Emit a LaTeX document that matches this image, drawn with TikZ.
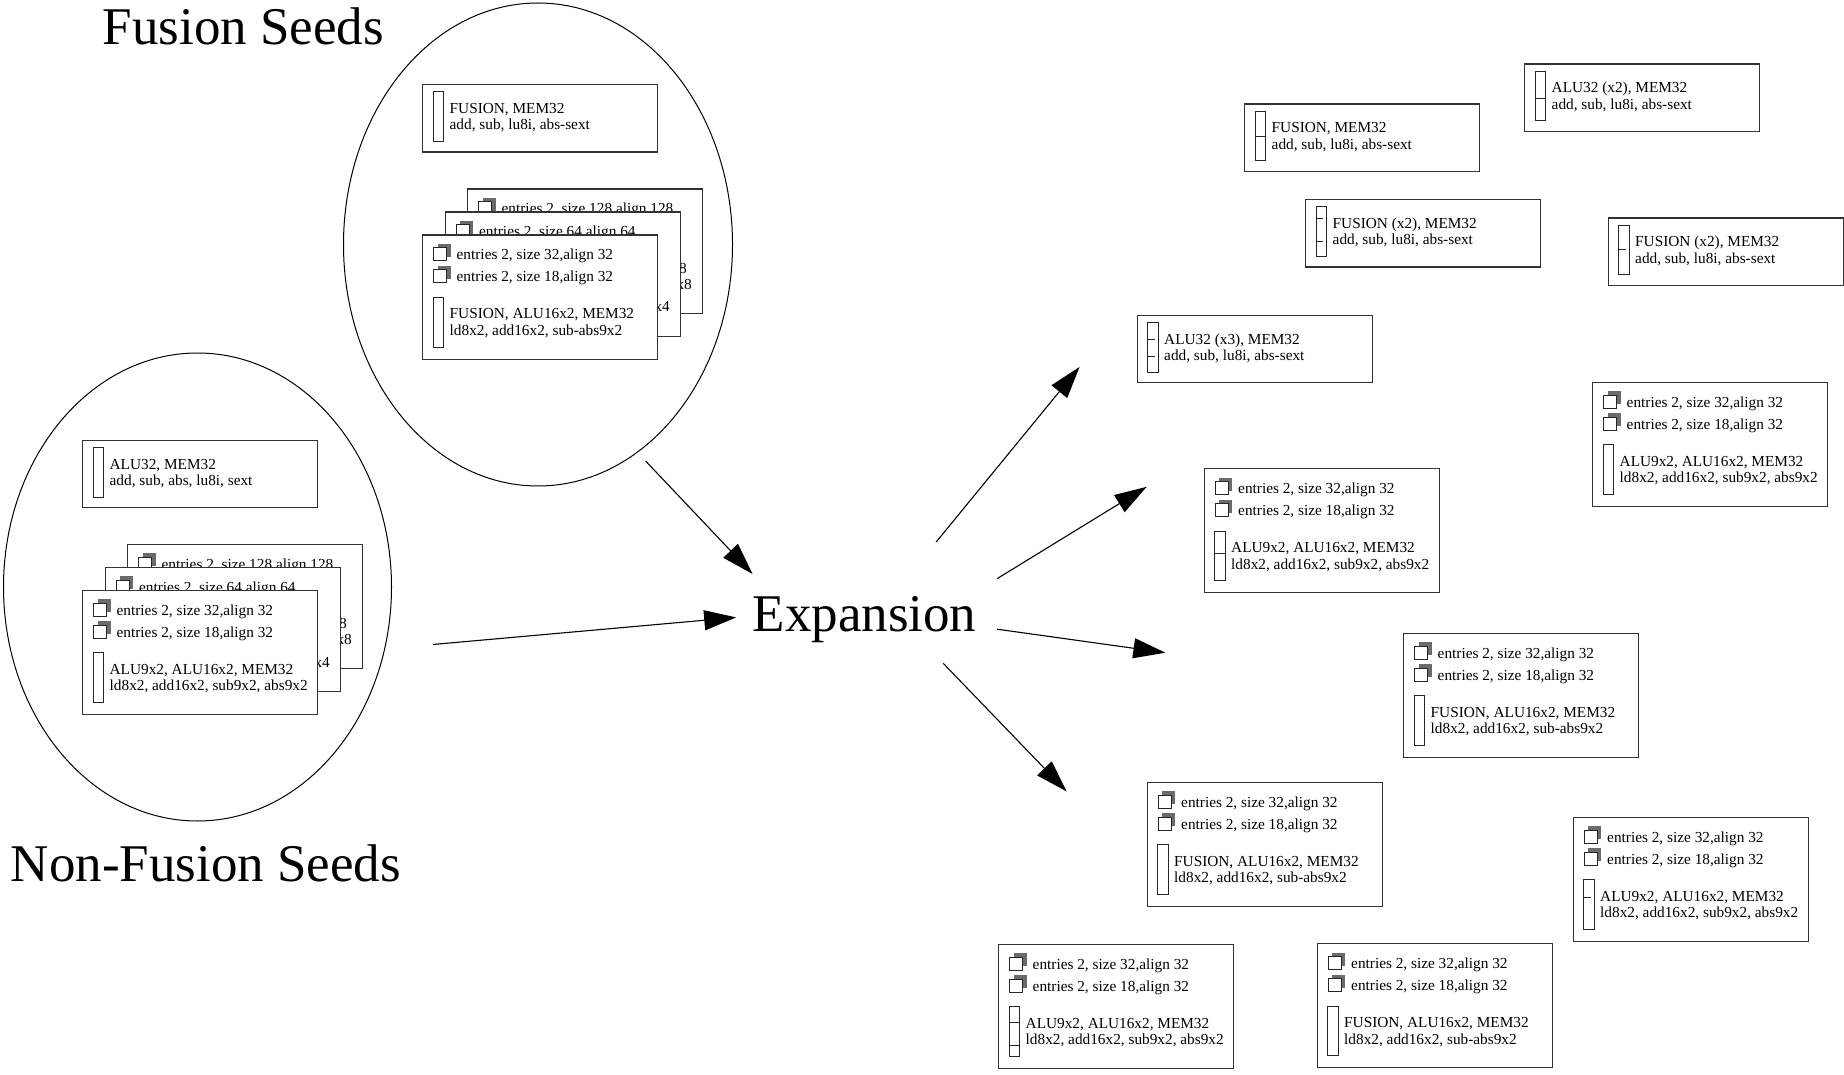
\documentclass[tikz,border=0pt]{standalone}
\usepackage{fontspec}
\setmainfont{Liberation Serif}
\usetikzlibrary{arrows.meta,shapes.geometric}

\tikzset{
  frame/.style={draw=black!80, line width=1.1pt, fill=white, inner sep=0pt,
                anchor=north west, minimum width=235pt},
  slot/.style={draw=black!85, line width=1pt, fill=white},
  shade/.style={fill=black!58},
  txt/.style={anchor=base west, inner sep=0pt, font=\fontsize{15.3}{18}\selectfont},
  frag/.style={anchor=base east, inner sep=0pt, font=\fontsize{15.3}{18}\selectfont},
  big/.style={anchor=base, inner sep=0pt, font=\fontsize{53}{60}\selectfont},
  seed/.style={draw, ellipse, line width=1pt, inner sep=0pt},
  flow/.style={line width=1.1pt, -{Triangle[length=32pt,width=20pt]}},
  cut/.style={line width=1pt, draw=black!85},
}

% unit slot with its two text lines: name, x of record, slot top, line 1, line 2
\newcommand{\unitpart}[5]{%
  \draw[slot] (#2+11,#3) rectangle (#2+21.5,#3+49.5);
  \node[txt] (#1-a) at (#2+27.5,#3+21.5) {#4};
  \node[txt] (#1-b) at (#2+27.5,#3+38) {#5};
}
% memory entry with shaded icon: name, x of record, baseline, text
\newcommand{\entryline}[4]{%
  \fill[shade] (#2+15.5,#3-16) rectangle (#2+28.5,#3-3);
  \draw[slot] (#2+11.5,#3-12) rectangle (#2+24.5,#3+1);
  \node[txt] (#1) at (#2+34.5,#3) {#4};
}
% short record: unit slot only
\newcommand{\recA}[5]{%
  \node[frame, minimum height=67.5pt] (#1) at (#2,#3) {};
  \unitpart{#1u}{#2}{#3+8}{#4}{#5}
}
% full record: two memory entries and a unit slot
\newcommand{\recB}[5]{%
  \node[frame, minimum height=124pt] (#1) at (#2,#3) {};
  \entryline{#1e1}{#2}{#3+25.5}{entries 2, size 32,align 32}
  \entryline{#1e2}{#2}{#3+47.5}{entries 2, size 18,align 32}
  \unitpart{#1u}{#2}{#3+63}{#4}{#5}
}
% slot dividers: x of record, slot top, fraction of slot height
\newcommand{\fullcut}[3]{\draw[cut] (#1+11,#2+49.5*#3) -- (#1+21.5,#2+49.5*#3);}
\newcommand{\halfcut}[3]{\draw[cut] (#1+11,#2+49.5*#3) -- (#1+18,#2+49.5*#3);}

\begin{document}
\begin{tikzpicture}[x=1pt,y=-1pt]
\useasboundingbox (0,0) rectangle (1844,1075);

% seed groups
\node[seed, minimum width=389pt, minimum height=483pt] (fusion) at (538,244.5) {};
\node[seed, minimum width=388pt, minimum height=468pt] (nonfusion) at (197.5,587) {};

% fusion seeds
\recA{fa}{422}{84}{FUSION, MEM32}{add, sub, lu8i, abs-sext}
\node[frame, minimum height=124pt] (fb3) at (467,188.5) {};
\entryline{fb3e}{467}{188.5+25.5}{entries 2, size 128,align 128}
\node[frag] (fb3f1) at (467+220,188.5+84.5) {8};
\node[frag] (fb3f2) at (467+225,188.5+101) {x8};
\node[frame, minimum height=124pt] (fb2) at (444.5,211.5) {};
\entryline{fb2e}{444.5}{211.5+25.5}{entries 2, size 64,align 64}
\node[frag] (fb2f) at (444.5+225.5,211.5+100.5) {x4};
\recB{fb1}{422}{234.5}{FUSION, ALU16x2, MEM32}{ld8x2, add16x2, sub-abs9x2}

% non-fusion seeds
\recA{na}{82}{439.5}{ALU32, MEM32}{add, sub, abs, lu8i, sext}
\node[frame, minimum height=124pt] (nb3) at (127,543.5) {};
\entryline{nb3e}{127}{543.5+25.5}{entries 2, size 128,align 128}
\node[frag] (nb3f1) at (127+220,543.5+84.5) {8};
\node[frag] (nb3f2) at (127+225,543.5+101) {x8};
\node[frame, minimum height=124pt] (nb2) at (104.5,566.5) {};
\entryline{nb2e}{104.5}{566.5+25.5}{entries 2, size 64,align 64}
\node[frag] (nb2f) at (104.5+225.5,566.5+100.5) {x4};
\recB{nb1}{82}{589.5}{ALU9x2, ALU16x2, MEM32}{ld8x2, add16x2, sub9x2, abs9x2}

% expanded designs
\recA{r1}{1244}{103.5}{FUSION, MEM32}{add, sub, lu8i, abs-sext}
\fullcut{1244}{103.5+8}{0.5}
\recA{r2}{1524}{63.5}{ALU32 (x2), MEM32}{add, sub, lu8i, abs-sext}
\fullcut{1524}{63.5+8}{0.54}
\recA{r3}{1305}{199}{FUSION (x2), MEM32}{add, sub, lu8i, abs-sext}
\halfcut{1305}{199+8}{0.24}
\halfcut{1305}{199+8}{0.69}
\recA{r4}{1607.5}{217.5}{FUSION (x2), MEM32}{add, sub, lu8i, abs-sext}
\halfcut{1607.5}{217.5+8}{0.48}
\recA{r5}{1136.5}{314.5}{ALU32 (x3), MEM32}{add, sub, lu8i, abs-sext}
\halfcut{1136.5}{314.5+8}{0.35}
\halfcut{1136.5}{314.5+8}{0.68}

\recB{r6}{1203.5}{468}{ALU9x2, ALU16x2, MEM32}{ld8x2, add16x2, sub9x2, abs9x2}
\fullcut{1203.5}{468+63}{0.45}
\recB{r7}{1592}{381.5}{ALU9x2, ALU16x2, MEM32}{ld8x2, add16x2, sub9x2, abs9x2}
\recB{r8}{1403}{632.5}{FUSION, ALU16x2, MEM32}{ld8x2, add16x2, sub-abs9x2}
\recB{r9}{1146.5}{781.5}{FUSION, ALU16x2, MEM32}{ld8x2, add16x2, sub-abs9x2}
\recB{r10}{1572.5}{816.5}{ALU9x2, ALU16x2, MEM32}{ld8x2, add16x2, sub9x2, abs9x2}
\halfcut{1572.5}{816.5+63}{0.36}
\recB{r11}{998}{943.5}{ALU9x2, ALU16x2, MEM32}{ld8x2, add16x2, sub9x2, abs9x2}
\fullcut{998}{943.5+63}{0.33}
\fullcut{998}{943.5+63}{0.79}
\recB{r12}{1316.5}{943}{FUSION, ALU16x2, MEM32}{ld8x2, add16x2, sub-abs9x2}

% titles
\node[big] (fuslbl) at (243.5,44.5) {Fusion Seeds};
\node[big] (nflbl) at (206,881) {Non-Fusion Seeds};
\node[big] (expansion) at (864.5,631.5) {Expansion};

% flow
\coordinate (in1s) at (645.6,461);   \coordinate (in1t) at (752.6,574);
\coordinate (in2s) at (432.8,644.5); \coordinate (in2t) at (736.2,617.4);
\coordinate (o1s) at (936.1,542.1);  \coordinate (o1t) at (1079.6,366.9);
\coordinate (o2s) at (997.2,578.6);  \coordinate (o2t) at (1146.6,486.9);
\coordinate (o3s) at (997.2,629.2);  \coordinate (o3t) at (1165.4,652.7);
\coordinate (o4s) at (943.2,663.3);  \coordinate (o4t) at (1066.6,791.4);
\draw[flow] (in1s) -- (in1t);
\draw[flow] (in2s) -- (in2t);
\draw[flow] (o1s) -- (o1t);
\draw[flow] (o2s) -- (o2t);
\draw[flow] (o3s) -- (o3t);
\draw[flow] (o4s) -- (o4t);
\end{tikzpicture}
\end{document}
